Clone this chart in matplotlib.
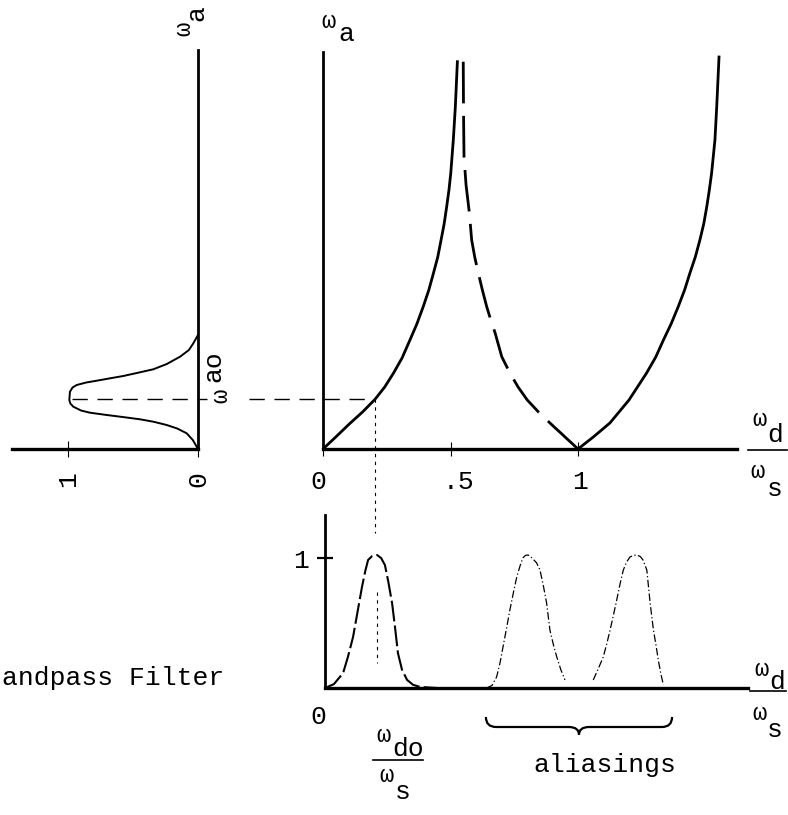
import matplotlib.pyplot as plt
from matplotlib.lines import Line2D
from matplotlib.path import Path
from matplotlib.patches import PathPatch
from matplotlib.transforms import ScaledTranslation

plt.rcParams['font.family'] = ['Liberation Mono', 'DejaVu Sans Mono']

# --- data ---
# top panel: analog frequency wa against wd/ws (bilinear warping)
warp_x = [0.0, 0.05, 0.106, 0.155, 0.204, 0.242, 0.276, 0.31, 0.341, 0.368, 0.393, 0.415,
          0.433, 0.45, 0.463, 0.475, 0.485, 0.494, 0.501, 0.511, 0.519, 0.527]
warp_y = [0.0, 0.12, 0.257, 0.37, 0.497, 0.62, 0.757, 0.91, 1.09, 1.25, 1.423, 1.59,
          1.757, 1.92, 2.09, 2.25, 2.423, 2.59, 2.757, 3.09, 3.423, 3.873]
fold_x = [0.550, 0.551, 0.553, 0.561, 0.574, 0.583, 0.595, 0.609, 0.625, 0.642, 0.658, 0.675,
          0.701, 0.733, 0.765, 0.801, 0.845, 0.890, 0.945, 1.0]
fold_y = [3.873, 3.39, 2.923, 2.64, 2.36, 2.09, 1.92, 1.76, 1.59, 1.423, 1.29, 1.16,
          0.923, 0.76, 0.62, 0.49, 0.37, 0.26, 0.13, 0.0]
rep_x = [1.0, 1.06, 1.125, 1.2, 1.269, 1.305, 1.335, 1.365, 1.393, 1.418, 1.439, 1.46,
         1.478, 1.493, 1.505, 1.515, 1.524, 1.537, 1.544, 1.553]
rep_y = [0.0, 0.12, 0.26, 0.49, 0.76, 0.92, 1.09, 1.25, 1.423, 1.59, 1.76, 1.92,
         2.09, 2.25, 2.423, 2.59, 2.76, 3.09, 3.423, 3.92]

# left panel: analog bandpass magnitude (horizontal) against wa (vertical)
bp_mag = [0.0, 0.04, 0.087, 0.16, 0.241, 0.34, 0.446, 0.58, 0.702, 0.831, 0.90, 0.959, 0.982,
          0.990, 0.985, 0.965, 0.933, 0.86, 0.779, 0.68, 0.575, 0.46, 0.344, 0.24, 0.138,
          0.07, 0.036, 0.0]
bp_wa = [0.0, 0.09, 0.157, 0.205, 0.24, 0.272, 0.297, 0.32, 0.34, 0.363, 0.385, 0.423, 0.455,
         0.49, 0.573, 0.615, 0.64, 0.665, 0.683, 0.706, 0.73, 0.763, 0.797, 0.85, 0.923,
         0.99, 1.057, 1.14]

# bottom panel: digital response and its aliasings against wd/ws
pk1_x = [0.0, 0.035, 0.071, 0.090, 0.110, 0.128, 0.145, 0.158, 0.169, 0.185, 0.204, 0.22,
         0.235, 0.248, 0.263, 0.275, 0.286, 0.302, 0.322, 0.345, 0.373, 0.439]
pk1_y = [0.0, 0.03, 0.115, 0.24, 0.392, 0.59, 0.777, 0.9, 0.985, 1.015, 1.023, 1.0,
         0.946, 0.82, 0.654, 0.46, 0.269, 0.14, 0.062, 0.025, 0.008, 0.0]
pk2_x = [0.634, 0.655, 0.673, 0.686, 0.698, 0.712, 0.725, 0.739, 0.752, 0.765, 0.776, 0.786,
         0.797, 0.812, 0.830, 0.843, 0.856, 0.869, 0.882, 0.896, 0.909, 0.925, 0.941]
pk2_y = [0.0, 0.02, 0.085, 0.19, 0.315, 0.46, 0.6, 0.735, 0.854, 0.94, 1.0, 1.02,
         1.023, 1.0, 0.962, 0.908, 0.79, 0.654, 0.446, 0.33, 0.238, 0.14, 0.062]
pk3_x = [1.052, 1.072, 1.091, 1.105, 1.118, 1.131, 1.144, 1.157, 1.170, 1.183, 1.196, 1.210,
         1.224, 1.237, 1.247, 1.262, 1.275, 1.288, 1.298, 1.307, 1.317, 1.327]
pk3_y = [0.062, 0.15, 0.238, 0.34, 0.446, 0.56, 0.677, 0.8, 0.908, 0.97, 1.008, 1.02,
         1.023, 1.01, 0.985, 0.908, 0.654, 0.446, 0.33, 0.215, 0.11, 0.023]

wao = 0.50
wdo = 0.205
alias_span = [0.631, 1.361]

top_ticks = [0, 0.5, 1]
top_labels = ['0', '.5', '1']

INK = 'black'
W, H = 788, 815


def fx(px):
    return px / W


def fy(py):
    return 1 - py / H


fig = plt.figure(figsize=(7.88, 8.15), dpi=100)
fig.patch.set_facecolor('white')


def nudge(label, dx_px):
    label.set_transform(label.get_transform() + ScaledTranslation(dx_px / 100, 0, fig.dpi_scale_trans))


# ---------- top panel ----------
ax_top = fig.add_axes([fx(323), fy(449), (737 - 323) / W, (449 - 52) / H])
ax_top.set_xlim(0, (737 - 323) / 255)
ax_top.set_ylim(0, (449 - 52) / 100)
ax_top.patch.set_visible(False)
for s in ['top', 'right']:
    ax_top.spines[s].set_visible(False)
ax_top.spines['left'].set_linewidth(2.0)
ax_top.spines['bottom'].set_linewidth(2.4)
ax_top.set_yticks([])
ax_top.set_xticks(top_ticks)
ax_top.set_xticklabels(top_labels)
ax_top.tick_params(axis='x', direction='inout', length=10, width=0.8, pad=10, labelsize=19)
lbls = ax_top.get_xticklabels()
nudge(lbls[0], -5)
nudge(lbls[1], 8)
nudge(lbls[2], 2)

ax_top.plot(warp_x, warp_y, color=INK, lw=2.0)
ax_top.plot(fold_x, fold_y, color=INK, lw=2.0, dashes=(15, 4.5))
ax_top.plot(rep_x, rep_y, color=INK, lw=2.0)

# wao -> wdo construction lines
ax_top.plot([-0.29, wdo], [wao, wao], color=INK, lw=1.0, dashes=(11, 7), clip_on=False)
ax_top.plot([wdo, wdo], [wao, -0.84], color=INK, lw=0.8, dashes=(3, 4), clip_on=False)

# ---------- left panel ----------
ax_left = fig.add_axes([fx(12), fy(449), (198 - 12) / W, (449 - 50) / H])
ax_left.set_xlim((198 - 12) / 130, 0)
ax_left.set_ylim(0, (449 - 50) / 100)
ax_left.patch.set_visible(False)
for s in ['top', 'left']:
    ax_left.spines[s].set_visible(False)
ax_left.spines['right'].set_linewidth(2.0)
ax_left.spines['bottom'].set_linewidth(2.4)
ax_left.set_yticks([])
ax_left.set_xticks([1, 0])
ax_left.set_xticklabels(['1', '0'], rotation=90)
ax_left.tick_params(axis='x', direction='inout', length=12, width=0.8, pad=10, labelsize=19)

ax_left.plot(bp_mag, bp_wa, color=INK, lw=1.4)
ax_left.plot([0.97, -0.07], [wao, wao], color=INK, lw=1.0, dashes=(11, 7), clip_on=False)

# ---------- bottom panel ----------
ax_bot = fig.add_axes([fx(325), fy(688), (748 - 325) / W, (688 - 515) / H])
ax_bot.set_xlim(0, (748 - 325) / 255)
ax_bot.set_ylim(0, (688 - 515) / 130)
ax_bot.patch.set_visible(False)
for s in ['top', 'right']:
    ax_bot.spines[s].set_visible(False)
ax_bot.spines['left'].set_linewidth(2.0)
ax_bot.spines['bottom'].set_linewidth(2.4)
ax_bot.set_yticks([1])
ax_bot.set_yticklabels(['1'])
ax_bot.set_xticks([0])
ax_bot.set_xticklabels(['0'])
ax_bot.tick_params(axis='y', direction='inout', length=11, width=1.6, pad=6, labelsize=19)
ax_bot.tick_params(axis='x', length=0, pad=12, labelsize=19)
nudge(ax_bot.get_xticklabels()[0], -7)

ax_bot.plot(pk1_x, pk1_y, color=INK, lw=1.5, dashes=(10, 2))
ax_bot.plot(pk2_x, pk2_y, color=INK, lw=0.9, dashes=(6, 2, 1, 2))
ax_bot.plot(pk3_x, pk3_y, color=INK, lw=0.9, dashes=(6, 2, 1, 2))
# wdo dropped into the lower panel
ax_bot.plot([wdo, wdo], [0.74, 0.19], color=INK, lw=0.8, dashes=(3, 4))

# brace under the aliasings
x0, x1 = alias_span
xm = (x0 + x1) / 2
yE, yM, yT, d = -0.223, -0.30, -0.36, 0.04
verts = [(x0, yE), (x0, yM), (x0 + d, yM), (xm - d, yM), (xm, yM), (xm, yT),
         (xm, yM), (xm + d, yM), (x1 - d, yM), (x1, yM), (x1, yE)]
codes = [Path.MOVETO, Path.CURVE3, Path.CURVE3, Path.LINETO, Path.CURVE3, Path.CURVE3,
         Path.CURVE3, Path.CURVE3, Path.LINETO, Path.CURVE3, Path.CURVE3]
ax_bot.add_patch(PathPatch(Path(verts, codes), fill=False, lw=1.6, color=INK,
                           transform=ax_bot.transData, clip_on=False))

# ---------- typed labels ----------
def txt(px, py, s, size=19, rot=0, ha='center'):
    fig.text(fx(px), fy(py), s, size=size, rotation=rot, ha=ha, va='center', color=INK)


def bar(xa, xb, py):
    fig.add_artist(Line2D([fx(xa), fx(xb)], [fy(py), fy(py)], color=INK, lw=1.2))


OM = 17  # the raised omega is typed a bit smaller

# wa on the top panel
txt(328, 21, 'ω', OM)
txt(346, 34, 'a')
# wa on the left panel (turned)
txt(184, 29, 'ω', OM, 90)
txt(196, 13, 'a', 19, 90)
# wao on the left panel (turned)
txt(221, 396, 'ω', OM, 90)
txt(213, 366, 'ao', 19, 90)

# wd / ws on the top panel
txt(759, 420, 'ω', OM)
txt(775, 435, 'd')
bar(748, 787, 450)
txt(757, 472, 'ω', OM)
txt(775, 489, 's')

# wd / ws on the bottom panel
txt(761, 669, 'ω', OM)
txt(777, 682, 'd')
bar(750, 786, 691)
txt(759, 713, 'ω', OM)
txt(775, 730, 's')

# wdo / ws under the first peak
txt(383, 736, 'ω', OM)
txt(408, 749, 'do')
bar(373, 423, 760)
txt(386, 775, 'ω', OM)
txt(403, 792, 's')

txt(605, 765, 'aliasings')
txt(2, 678, 'andpass Filter', ha='left')

fig.savefig('out.png', dpi=100, facecolor='white')
